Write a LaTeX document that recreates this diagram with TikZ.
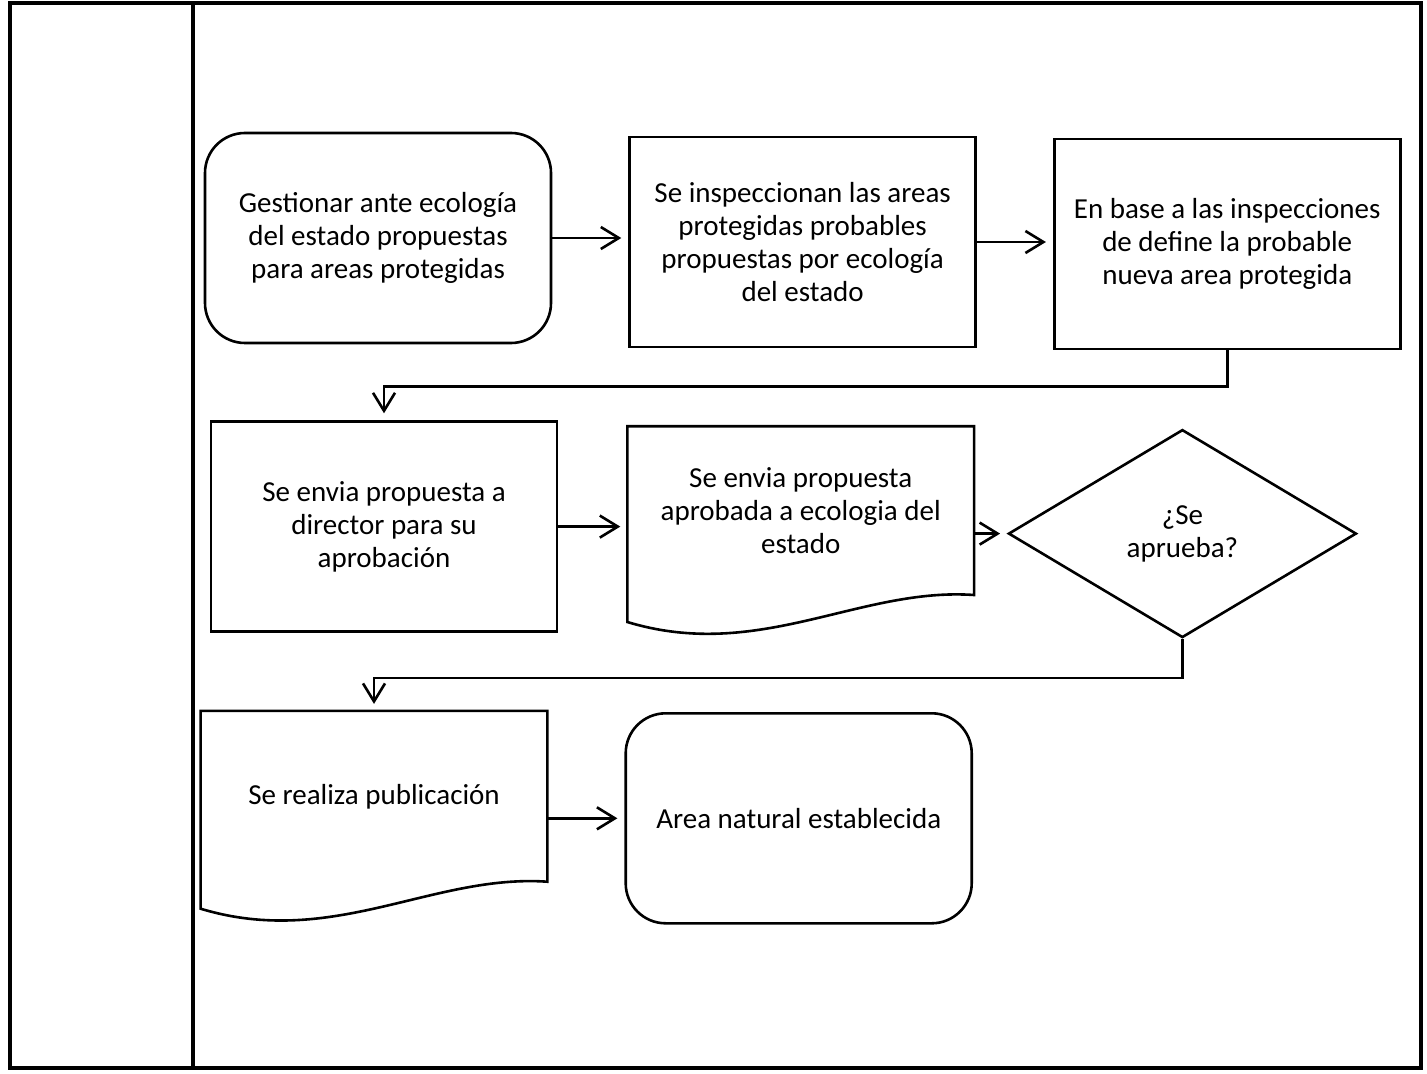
\documentclass[tikz,border=0pt]{standalone}
\usepackage{fontspec}
\setmainfont{Carlito}
\usetikzlibrary{shapes.geometric,arrows.meta,positioning,calc}

% document symbol: box with a wavy lower edge
\newcommand{\docbody}[1]{%
  \draw[line width=1.3pt] (#1.north west) -- (#1.north east) -- (#1.south east)
    .. controls +(-115,-8) and +(132,40) .. ([yshift=-13.5pt]#1.south west) -- cycle;}

\begin{document}
\begin{tikzpicture}[%
      x=0.5pt, y=-0.5pt,
      >={Straight Barb[length=9pt,width=11pt]},
      node distance=38pt,
      font=\fontsize{14.5pt}{16.5pt}\selectfont
      ]
  \tikzset{
    box/.style={draw,align=center,rectangle,minimum width=173pt,minimum height=105pt,inner sep=0pt,line width=1.3pt},
    rbox/.style={box,rounded corners=20pt},
    docbox/.style={align=center,rectangle,minimum width=173pt,minimum height=84pt,inner sep=0pt},
    test/.style={draw,align=center,diamond,minimum width=174pt,minimum height=104pt,inner sep=0pt,line width=1.3pt},
    flow/.style={->,line width=1.3pt,shorten >=3.5pt},
    frame/.style={line width=2pt}}

 \useasboundingbox (0,0) rectangle (1427,1074);
 \draw[frame] (10,3) rectangle (1421,1068);
 \draw[frame] (193,3) -- (193,1068);

 \node [rbox] (gest) at (378,238) {Gestionar ante ecología\\del estado propuestas\\para areas protegidas};
 \node [box,right=of gest,yshift=-2pt] (insp) {Se inspeccionan las areas\\protegidas probables\\propuestas por ecología\\del estado};
 \node [box,right=of insp,yshift=-1pt] (def) {En base a las inspecciones\\de define la probable\\nueva area protegida};

 \node [box,below=38pt of gest,xshift=3pt] (dir) {Se envia propuesta a\\director para su\\aprobación};
 \node [docbox,right=34.5pt of dir,yshift=8pt] (env) {Se envia propuesta\\aprobada a ecologia del\\estado};
 \node [test,right=16.5pt of env,yshift=-11.5pt] (aprueba) {¿Se\\aprueba?};

 \node [docbox,minimum height=85pt,below=39pt of dir,xshift=-5pt] (pub) {Se realiza publicación};
 \node [rbox,right=38.5pt of pub,yshift=-11pt] (area) {Area natural establecida};

 \docbody{env}
 \docbody{pub}

 \draw[flow] (gest.east) -- (gest.east -| insp.west);
 \draw[flow] (insp.east) -- (insp.east -| def.west);
 \draw[flow] (def.south) -- ++(0,36) -| (dir.north);
 \draw[flow] (dir.east) -- (dir.east -| env.west);
 \draw[flow] (aprueba.west -| env.east) -- (aprueba.west);
 \draw[flow] (aprueba.south) -- ++(0,39) -| (pub.north);
 \draw[flow] (area.west -| pub.east) -- (area.west);
\end{tikzpicture}
\end{document}
